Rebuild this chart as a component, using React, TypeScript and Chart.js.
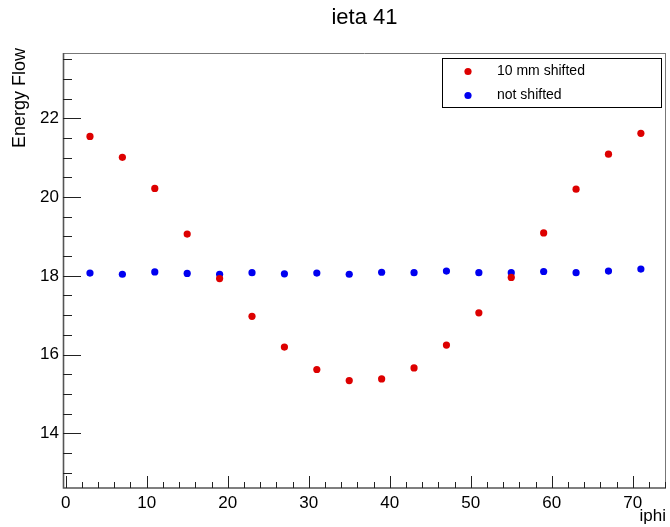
import React, { useEffect, useRef } from "react";
import { Chart, registerables } from "chart.js";

Chart.register(...registerables);

const iphi = [3, 7, 11, 15, 19, 23, 27, 31, 35, 39, 43, 47, 51, 55, 59, 63, 67, 71];
const shifted = [21.54, 21.01, 20.22, 19.06, 17.93, 16.97, 16.19, 15.62, 15.34, 15.38, 15.66, 16.24, 17.06, 17.96, 19.09, 20.2, 21.09, 21.62];
const notShifted = [18.07, 18.04, 18.1, 18.06, 18.04, 18.08, 18.05, 18.07, 18.04, 18.09, 18.08, 18.12, 18.08, 18.08, 18.11, 18.08, 18.12, 18.17];
const seriesLabels = ["10 mm shifted", "not shifted"];
const seriesColors = ["#dd0000", "#0000f0"];
const titleText = "ieta 41";
const xTitle = "iphi";
const yTitle = "Energy Flow";

const FONT = "'Liberation Sans', Arial, Helvetica, sans-serif";

const framePlugin = {
  id: "rootFrame",
  afterDraw(chart: any) {
    const ctx = chart.ctx;
    const { left, right, top, bottom } = chart.chartArea;
    const xs = chart.scales.x;
    const ys = chart.scales.y;
    ctx.save();
    // frame
    ctx.strokeStyle = "#777";
    ctx.lineWidth = 1;
    ctx.beginPath();
    ctx.moveTo(left, top + 0.5);
    ctx.lineTo(right, top + 0.5);
    ctx.moveTo(right - 0.5, top);
    ctx.lineTo(right - 0.5, bottom);
    ctx.stroke();
    ctx.strokeStyle = "#555";
    ctx.lineWidth = 1.6;
    ctx.beginPath();
    ctx.moveTo(left + 0.5, top);
    ctx.lineTo(left + 0.5, bottom);
    ctx.lineTo(right, bottom);
    ctx.stroke();
    // ticks
    ctx.strokeStyle = "#222";
    ctx.lineWidth = 1;
    ctx.beginPath();
    for (let v = Math.ceil(ys.min * 2) / 2; v <= ys.max; v += 0.5) {
      const py = Math.round(ys.getPixelForValue(v)) + 0.5;
      const major = Math.abs(v / 2 - Math.round(v / 2)) < 1e-6;
      ctx.moveTo(left, py);
      ctx.lineTo(left + (major ? 18 : 9), py);
    }
    for (let v = Math.ceil(xs.min / 2) * 2; v <= xs.max; v += 2) {
      const px = Math.round(xs.getPixelForValue(v)) + 0.5;
      const major = v % 10 === 0;
      ctx.moveTo(px, bottom);
      ctx.lineTo(px, bottom - (major ? 12 : 6));
    }
    ctx.stroke();
    // y axis title
    ctx.save();
    ctx.translate(20, 48);
    ctx.rotate(-Math.PI / 2);
    ctx.font = "18px " + FONT;
    ctx.fillStyle = "#000";
    ctx.textAlign = "right";
    ctx.textBaseline = "middle";
    ctx.fillText(yTitle, 0, 0);
    ctx.restore();
    // legend
    const lx = 442, ly = 58, lw = 219, lh = 49;
    ctx.fillStyle = "#fff";
    ctx.fillRect(lx, ly, lw, lh);
    ctx.strokeStyle = "#000";
    ctx.lineWidth = 1;
    ctx.strokeRect(lx + 0.5, ly + 0.5, lw, lh);
    ctx.font = "14px " + FONT;
    ctx.textBaseline = "middle";
    ctx.textAlign = "left";
    chart.data.datasets.forEach((ds: any, i: number) => {
      const cy = ly + 13.5 + i * 24;
      ctx.fillStyle = ds.backgroundColor;
      ctx.beginPath();
      ctx.arc(lx + 26, cy, 3.6, 0, Math.PI * 2);
      ctx.fill();
      ctx.fillStyle = "#000";
      ctx.fillText(ds.label, lx + 55, cy);
    });
    ctx.restore();
  },
};

export default function App() {
  const ref = useRef<HTMLCanvasElement | null>(null);
  useEffect(() => {
    if (!ref.current) return;
    const chart = new Chart(ref.current, {
      type: "scatter",
      data: {
        datasets: [
          {
            label: seriesLabels[0],
            data: iphi.map((x, i) => ({ x, y: shifted[i] })),
            backgroundColor: seriesColors[0],
            borderWidth: 0,
            pointRadius: 3.6,
          },
          {
            label: seriesLabels[1],
            data: iphi.map((x, i) => ({ x, y: notShifted[i] })),
            backgroundColor: seriesColors[1],
            borderWidth: 0,
            pointRadius: 3.6,
          },
        ],
      },
      options: {
        animation: false,
        responsive: false,
        devicePixelRatio: 1,
        layout: { padding: { left: 0, right: 4, top: 0, bottom: 0 } },
        plugins: {
          legend: { display: false },
          tooltip: { enabled: false },
          title: {
            display: true,
            text: titleText,
            fullSize: false,
            color: "#000",
            font: { family: FONT, size: 22, weight: "normal" },
            padding: { top: 5, bottom: 21.6 },
          },
        },
        scales: {
          x: {
            type: "linear",
            min: -0.33,
            max: 74.1,
            grid: { display: false, drawTicks: false },
            border: { display: false },
            ticks: {
              stepSize: 10,
              includeBounds: false,
              padding: 5,
              color: "#000",
              font: { family: FONT, size: 17 },
              maxRotation: 0,
              callback: (v: any) => String(v),
            },
            title: {
              display: true,
              text: xTitle,
              align: "end",
              color: "#000",
              font: { family: FONT, size: 17 },
              padding: { top: -2, bottom: 0 },
            },
            afterFit: (s: any) => {
              s.height = 39;
            },
          },
          y: {
            type: "linear",
            min: 12.61,
            max: 23.66,
            grid: { display: false, drawTicks: false },
            border: { display: false },
            ticks: {
              stepSize: 2,
              includeBounds: false,
              padding: 4,
              color: "#000",
              font: { family: FONT, size: 17 },
              callback: (v: any) => String(v),
            },
            title: { display: false },
            afterFit: (s: any) => {
              s.width = 63;
            },
          },
        },
      },
      plugins: [framePlugin],
    } as any);
    return () => chart.destroy();
  }, []);
  return (
    <div style={{ position: "absolute", left: 0, top: 0, width: 670, height: 527, background: "#fff" }}>
      <canvas ref={ref} width={670} height={527} style={{ display: "block" }} />
    </div>
  );
}
